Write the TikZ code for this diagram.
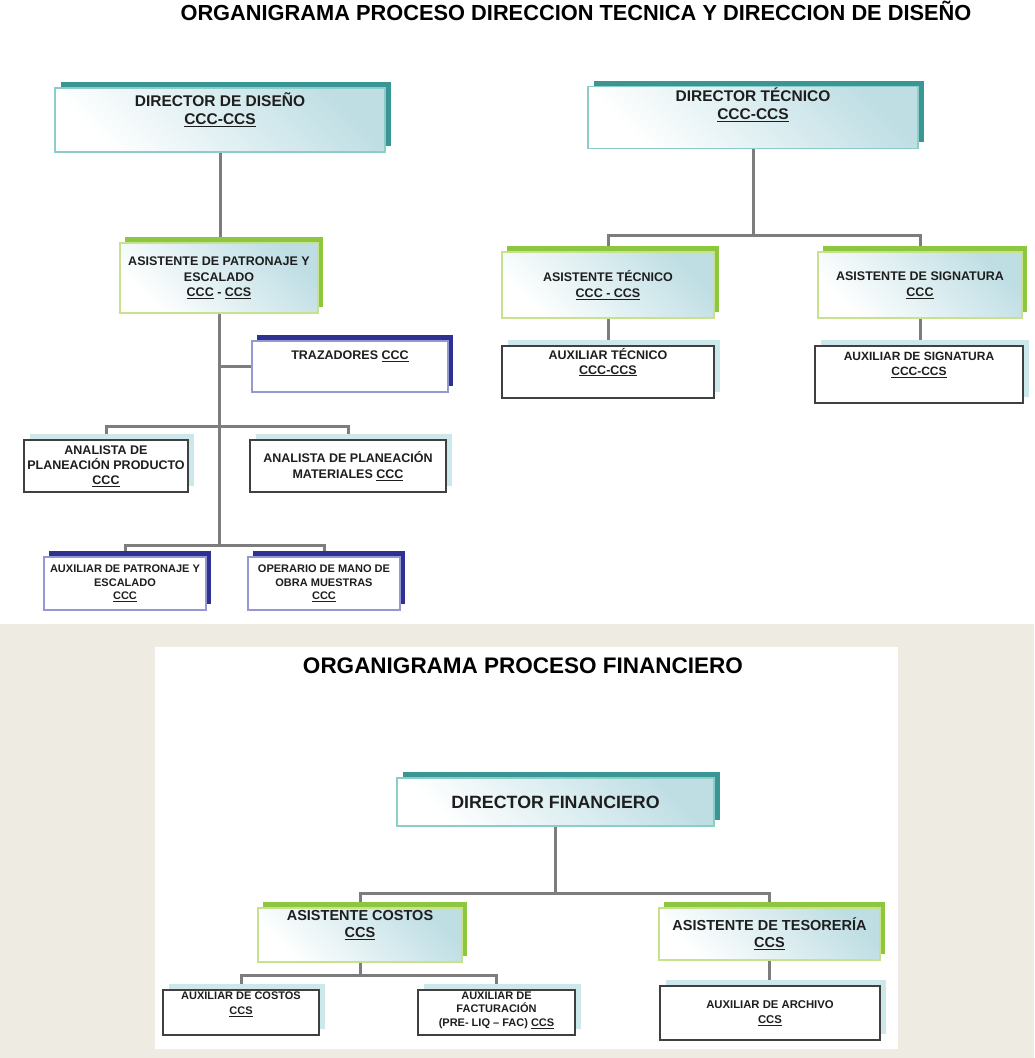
\documentclass[tikz,border=0pt]{standalone}
\usepackage{fontspec}
\setmainfont{Liberation Sans}
\usetikzlibrary{shadows,backgrounds}
\definecolor{oTealD}{RGB}{58,150,148}
\definecolor{oTealL}{RGB}{140,205,200}
\definecolor{oSky}{RGB}{190,222,228}
\definecolor{oGrnD}{RGB}{141,198,63}
\definecolor{oGrnL}{RGB}{200,225,140}
\definecolor{oNavD}{RGB}{46,49,146}
\definecolor{oNavL}{RGB}{150,150,210}
\definecolor{oMist}{RGB}{205,232,234}
\definecolor{oInk}{RGB}{30,30,30}
\definecolor{oLine}{RGB}{125,125,125}
\definecolor{oSand}{RGB}{238,235,227}

\begin{document}
\begin{tikzpicture}[x=1pt,y=-1pt,
			bx/.style={draw,line width=1.6pt,align=center,inner sep=1pt,text=oInk},
			wh/.style 2 args={minimum width=#1pt,minimum height=#2pt},
			sz/.style 2 args={font=\bfseries\fontsize{#1}{#2}\selectfont},
			lift/.style={text depth=#1},
			tl/.style={bx,draw=oTealL,top color=oSky,bottom color=white,shading angle=-45,
				drop shadow={shadow xshift=6pt,shadow yshift=6pt,fill=oTealD,opacity=1}},
			gr/.style={bx,draw=oGrnL,top color=oSky,bottom color=white,shading angle=-45,
				drop shadow={shadow xshift=5pt,shadow yshift=6pt,fill=oGrnD,opacity=1}},
			nv/.style={bx,draw=oNavL,fill=white,
				drop shadow={shadow xshift=5pt,shadow yshift=6pt,fill=oNavD,opacity=1}},
			bk/.style={bx,draw=oInk!85,fill=white,
				drop shadow={shadow xshift=6pt,shadow yshift=6pt,fill=oMist,opacity=1}},
			con/.style={draw=oLine,line width=3pt}
			]
			\useasboundingbox (0,0) rectangle (1034,1058);
			\begin{scope}[on background layer]
				\fill[white] (0,0) rectangle (1034,624);
				\fill[oSand] (0,624) rectangle (1034,1058);
				\fill[white] (155,647) rectangle (898,1049);
			\end{scope}
			% titles
			\node[font=\bfseries\fontsize{21.8}{24}\selectfont,text=black](t1) at (576,11) {ORGANIGRAMA PROCESO DIRECCION TECNICA Y DIRECCION DE DISEÑO};
			\node[font=\bfseries\fontsize{22.5}{24}\selectfont,text=black](t2) at (523,666) {ORGANIGRAMA PROCESO FINANCIERO};
			% diseno
			\node[tl,wh={330}{64},sz={15.5}{18},lift=23pt](dd) at (220,120) {DIRECTOR DE DISEÑO\\\underline{CCC-CCS}};
			\node[gr,wh={198}{70},sz={12.5}{15.5}](adp) at (219,278) {ASISTENTE DE PATRONAJE Y\\ESCALADO\\\underline{CCC} - \underline{CCS}};
			\node[nv,wh={196}{51},sz={12.5}{15},lift=23pt](trz) at (350,366.5) {TRAZADORES \underline{CCC}};
			\node[bk,wh={164}{52},sz={12.5}{15}](app) at (106,466) {ANALISTA DE\\PLANEACIÓN PRODUCTO\\\underline{CCC}};
			\node[bk,wh={196}{52},sz={12.5}{16}](apm) at (348,466) {ANALISTA DE PLANEACIÓN\\MATERIALES \underline{CCC}};
			\node[nv,wh={162}{53},sz={11}{13.5}](axp) at (125,583.5) {AUXILIAR DE PATRONAJE Y\\ESCALADO\\\underline{CCC}};
			\node[nv,wh={152}{53},sz={11}{13.5}](opr) at (324,583.5) {OPERARIO DE MANO DE\\OBRA MUESTRAS\\\underline{CCC}};
			% tecnico
			\node[tl,wh={330}{59},sz={15.5}{18},lift=28pt](dt) at (753,117.5) {DIRECTOR TÉCNICO\\\underline{CCC-CCS}};
			\node[gr,wh={212}{66},sz={12.5}{16}](ast) at (608,285) {ASISTENTE TÉCNICO\\\underline{CCC - CCS}};
			\node[gr,wh={204}{66},sz={12.5}{16}](asg) at (920,285) {ASISTENTE DE SIGNATURA\\\underline{CCC}};
			\node[bk,wh={212}{52},sz={12.5}{15},lift=22pt](axt) at (608,372) {AUXILIAR TÉCNICO\\\underline{CCC-CCS}};
			\node[bk,wh={208}{57},sz={12}{15},lift=21pt](axs) at (919,374.5) {AUXILIAR DE SIGNATURA\\\underline{CCC-CCS}};
			% financiero
			\node[tl,wh={317}{48},sz={17.8}{20}](df) at (555.5,802) {DIRECTOR FINANCIERO};
			\node[gr,wh={204}{54},sz={14.5}{17},lift=22pt](ac) at (360,935) {ASISTENTE COSTOS\\\underline{CCS}};
			\node[gr,wh={221}{52},sz={14.5}{17}](ats) at (769.5,934) {ASISTENTE DE TESORERÍA\\\underline{CCS}};
			\node[bk,wh={156}{45},sz={11}{15},lift=19pt](axc) at (241,1012.5) {AUXILIAR DE COSTOS\\\underline{CCS}};
			\node[bk,wh={157}{45},sz={11}{13.5},lift=7pt](axf) at (496.5,1012.5) {AUXILIAR DE\\FACTURACIÓN\\(PRE- LIQ – FAC) \underline{CCS}};
			\node[bk,wh={220}{54},sz={11.3}{15}](axa) at (770,1013) {AUXILIAR DE ARCHIVO\\\underline{CCS}};
			% connectors
			\coordinate (j1) at (219,426);
			\coordinate (j2) at (219,545);
			\coordinate (j3) at (753,235);
			\coordinate (j4) at (555.5,893);
			\coordinate (j5) at (360,975);
			\begin{scope}[on background layer]
				\draw[con] (dd.south) -- (dd.south |- adp.north);
				\draw[con] (adp.south) -- (j2);
				\draw[con] (trz.west) -- (trz.west -| j2);
				\draw[con] (app.north) |- (j1) -| (apm.north);
				\draw[con] (axp.north) |- (j2) -| (opr.north);
				\draw[con] (dt.south) -- (j3);
				\draw[con] (ast.north) |- (j3) -| (asg.north);
				\draw[con] (ast.south) -- (axt.north);
				\draw[con] (asg.south) -- (asg.south |- axs.north);
				\draw[con] (df.south) -- (j4);
				\draw[con] (ac.north) |- (j4) -| (ats.north);
				\draw[con] (ac.south) -- (j5);
				\draw[con] (axc.north) |- (j5) -| (axf.north);
				\draw[con] (ats.south) -- (ats.south |- axa.north);
			\end{scope}
		\end{tikzpicture}
\end{document}
